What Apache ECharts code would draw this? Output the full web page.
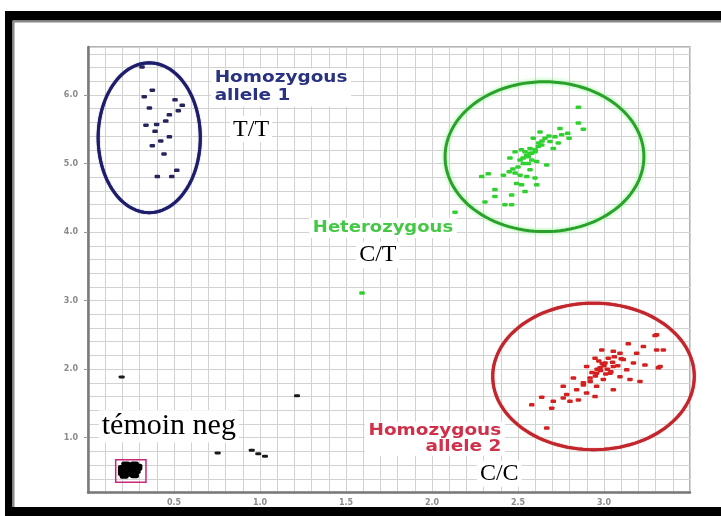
<!DOCTYPE html>
<html>
<head>
<meta charset="utf-8">
<script src="https://cdn.jsdelivr.net/npm/echarts@6/dist/echarts.min.js"></script>
<style>
html,body{margin:0;padding:0;background:#fff;}
#chart{width:721px;height:516px;}
</style>
</head>
<body>
<div id="chart"></div>
<script>
// ---- Data (x = allele 1 signal, y = allele 2 signal) ----
const xTickValues = [0.5, 1.0, 1.5, 2.0, 2.5, 3.0];
const yTickValues = [1, 2, 3, 4, 5, 6];

const homozygous1 = [
  [0.314, 6.41], [0.374, 6.07], [0.327, 5.975], [0.506, 5.93], [0.548, 5.85],
  [0.357, 5.81], [0.525, 5.77], [0.473, 5.71], [0.452, 5.62], [0.337, 5.56],
  [0.399, 5.57], [0.390, 5.47], [0.473, 5.39], [0.423, 5.33], [0.374, 5.26],
  [0.442, 5.14], [0.516, 4.90], [0.403, 4.81], [0.487, 4.81]
];

const heterozygous = [
  [2.851, 5.82], [2.851, 5.59], [2.880, 5.50], [2.789, 5.44], [2.797, 5.37],
  [2.744, 5.51], [2.715, 5.39], [2.686, 5.32], [2.628, 5.46], [2.638, 5.27],
  [2.589, 5.37], [2.570, 5.22], [2.541, 5.17], [2.560, 5.10], [2.512, 5.05],
  [2.531, 5.00], [2.483, 5.17], [2.453, 5.08], [2.667, 4.98], [2.609, 5.03],
  [2.449, 4.88], [2.483, 4.86], [2.512, 4.83], [2.415, 4.83], [2.551, 4.81],
  [2.599, 4.79], [2.609, 4.69], [2.521, 4.69], [2.492, 4.71], [2.327, 4.85],
  [2.289, 4.81], [2.366, 4.62], [2.366, 4.52], [2.463, 4.54], [2.541, 4.59],
  [2.424, 4.40], [2.463, 4.40], [2.308, 4.44], [2.570, 4.91], [2.705, 5.22],
  [2.734, 5.30], [2.657, 5.37], [2.754, 5.42], [2.580, 5.15], [2.599, 5.17],
  [2.618, 5.25], [2.55, 5.12], [2.57, 5.15], [2.53, 5.08], [2.60, 5.20],
  [2.62, 5.30], [2.50, 4.95], [2.47, 4.92], [2.58, 5.05], [2.64, 5.33],
  [2.68, 5.40], [2.52, 5.20], [2.56, 5.00], [2.134, 4.29], [1.593, 3.11]
];

const homozygous2 = [
  [3.297, 2.49], [3.141, 2.37], [3.229, 2.33], [3.306, 2.28], [3.345, 2.28],
  [2.987, 2.28], [3.054, 2.26], [3.093, 2.23], [3.190, 2.23], [2.948, 2.16],
  [3.025, 2.16], [3.112, 2.14], [3.171, 2.09], [3.238, 2.06], [3.316, 2.02],
  [2.899, 2.04], [2.977, 2.02], [3.054, 2.04], [3.132, 1.99], [3.006, 2.09],
  [2.957, 1.94], [3.035, 1.94], [3.093, 1.89], [2.919, 1.87], [2.996, 1.85],
  [3.151, 1.85], [3.209, 1.82], [2.880, 1.77], [2.957, 1.75], [3.054, 1.70],
  [2.822, 1.87], [2.841, 1.70], [2.899, 1.65], [2.783, 1.63], [2.851, 1.55],
  [2.763, 1.75], [2.802, 1.53], [2.948, 1.60], [2.763, 1.58], [2.705, 1.53],
  [2.638, 1.59], [2.580, 1.48], [2.696, 1.43], [2.667, 1.14], [3.326, 2.04],
  [3.306, 2.50], [3.00, 2.05], [3.02, 2.00], [2.98, 1.98], [3.05, 2.10],
  [2.95, 1.90], [2.97, 2.12], [3.08, 2.05], [2.93, 1.95], [3.01, 1.93],
  [2.99, 2.08], [3.04, 1.96], [2.96, 2.00], [3.10, 2.15], [2.92, 1.82],
  [2.88, 1.80], [3.06, 2.18]
];

const negControl = [
  [0.20, 0.55], [0.23, 0.58], [0.26, 0.56], [0.22, 0.50], [0.25, 0.48],
  [0.28, 0.52], [0.21, 0.45], [0.27, 0.60], [0.24, 0.53], [0.22, 0.60],
  [0.27, 0.46], [0.20, 0.49], [0.29, 0.57]
];

const undetermined = [
  [0.196, 1.885], [0.754, 0.777], [0.952, 0.815], [0.990, 0.767],
  [1.029, 0.728], [1.215, 1.61]
];

// cluster ellipses: [centerX, centerY, radiusX, radiusY] in data units
const clusterEllipses = [[0.356, 5.376, 0.297, 1.093], [2.654, 5.10, 0.578, 1.093], [2.939, 1.894, 0.586, 1.069]];
const ellipseColors = ['#1d1d6b', '#2aa12a', '#c2262c'];

// negative control box: [x1, y1, x2, y2]
const controlBox = [[0.161, 0.348, 0.337, 0.679]];

// annotation labels: text, anchor x, anchor y
const labelTexts = ['Homozygous\nallele 1', 'T/T', 'Heterozygous', 'C/T', 'Homozygous\nallele 2', 'C/C', 'témoin neg'];
const labelX = [0.715, 0.948, 1.715, 1.685, 2.424, 2.391, 0.470];
const labelY = [6.11, 5.50, 4.06, 3.67, 0.985, 0.475, 1.166];

// ---- styles (not data) ----
const labelStyles = [
  {font: 'bold 15px "DejaVu Sans"', fill: '#2a3282', align: 'left', scale: 1.23, lh: 18},
  {font: '24px "Liberation Serif"', fill: '#000', align: 'center', scale: 1, lh: 24},
  {font: 'bold 15px "DejaVu Sans"', fill: '#46c846', align: 'center', scale: 1.2, lh: 18},
  {font: '24px "Liberation Serif"', fill: '#000', align: 'center', scale: 1, lh: 24},
  {font: 'bold 15px "DejaVu Sans"', fill: '#d0304a', align: 'right', scale: 1.23, lh: 16},
  {font: '24px "Liberation Serif"', fill: '#000', align: 'center', scale: 1, lh: 24},
  {font: '30px "Liberation Serif"', fill: '#000', align: 'center', scale: 1, lh: 30}
];

const chart = echarts.init(document.getElementById('chart'), null, {renderer: 'canvas'});

const X_MIN = 0, X_MAX = 3.5, Y_MIN = 0.2, Y_MAX = 6.7;

function markerSeries(name, data, color, size) {
  return {
    name: name, type: 'scatter', xAxisIndex: 0, yAxisIndex: 0,
    data: data, symbol: 'roundRect', symbolSize: size,
    itemStyle: {color: color, opacity: 1}, z: 5, silent: true
  };
}

const option = {
  backgroundColor: '#ffffff',
  animation: false,
  grid: {left: 88, right: 31, top: 47, bottom: 23.5, show: true, borderColor: '#9a9a9a', borderWidth: 1.5, backgroundColor: 'transparent'},
  xAxis: [
    {
      type: 'value', min: X_MIN, max: X_MAX, position: 'bottom',
      axisLine: {show: true, onZero: false, lineStyle: {color: '#7a7a7a', width: 2.5}},
      axisTick: {show: false},
      axisLabel: {customValues: xTickValues, formatter: v => v.toFixed(1), fontSize: 8, color: '#8a8a8a', fontWeight: 'bold', margin: 6, fontFamily: 'DejaVu Sans'},
      splitLine: {show: false}
    },
    {
      type: 'value', min: X_MIN, max: X_MAX, interval: 0.1, position: 'top',
      axisLine: {show: false}, axisTick: {show: false}, axisLabel: {show: false},
      splitLine: {show: true, lineStyle: {color: '#d2d2d2', width: 1}}
    }
  ],
  yAxis: [
    {
      type: 'value', min: Y_MIN, max: Y_MAX, position: 'left',
      axisLine: {show: true, onZero: false, lineStyle: {color: '#7a7a7a', width: 2.5}},
      axisTick: {show: true, customValues: yTickValues, length: 4, lineStyle: {color: '#9a9a9a'}},
      axisLabel: {customValues: yTickValues, formatter: v => v.toFixed(1), fontSize: 8, color: '#8a8a8a', fontWeight: 'bold', margin: 10, fontFamily: 'DejaVu Sans'},
      splitLine: {show: false}
    },
    {
      type: 'value', min: Y_MIN, max: Y_MAX, interval: 0.2, position: 'right',
      axisLine: {show: false}, axisTick: {show: false}, axisLabel: {show: false},
      splitLine: {show: true, lineStyle: {color: '#d2d2d2', width: 1}}
    }
  ],
  series: [
    {
      type: 'custom', name: 'labels', xAxisIndex: 0, yAxisIndex: 0, z: 3, silent: true,
      data: labelTexts.map((t, i) => [labelX[i], labelY[i], i]),
      renderItem: function (params, api) {
        const i = api.value(2);
        const p = api.coord([api.value(0), api.value(1)]);
        const s = labelStyles[i];
        return {
          type: 'text', x: p[0], y: p[1], scaleX: s.scale,
          style: {
            text: labelTexts[i], font: s.font, fill: s.fill,
            align: s.align, verticalAlign: 'middle', lineHeight: s.lh,
            backgroundColor: '#ffffff', padding: [1, 3, 1, 3]
          }
        };
      }
    },
    {
      type: 'custom', name: 'clusters', xAxisIndex: 0, yAxisIndex: 0, z: 4, silent: true, clip: false,
      data: clusterEllipses,
      renderItem: function (params, api) {
        const cx = api.value(0), cy = api.value(1), rx = api.value(2), ry = api.value(3);
        const pts = [];
        for (let k = 0; k <= 120; k++) {
          const a = k / 120 * Math.PI * 2;
          pts.push(api.coord([cx + rx * Math.cos(a), cy + ry * Math.sin(a)]));
        }
        const c = ellipseColors[params.dataIndex];
        return {
          type: 'polygon', shape: {points: pts},
          style: {fill: 'none', stroke: c, lineWidth: 3,
            shadowBlur: params.dataIndex === 1 ? 4 : 1, shadowColor: params.dataIndex === 1 ? '#8cf58c' : c}
        };
      }
    },
    {
      type: 'custom', name: 'control box', xAxisIndex: 0, yAxisIndex: 0, z: 4, silent: true,
      data: controlBox,
      renderItem: function (params, api) {
        const a = api.coord([api.value(0), api.value(3)]);
        const b = api.coord([api.value(2), api.value(1)]);
        return {
          type: 'rect', shape: {x: a[0], y: a[1], width: b[0] - a[0], height: b[1] - a[1]},
          style: {fill: 'none', stroke: '#c8287a', lineWidth: 1.5}
        };
      }
    },
    markerSeries('Homozygous allele 1', homozygous1, '#25255e', [5.5, 3.5]),
    markerSeries('Heterozygous', heterozygous, '#2fd12f', [5.5, 3.5]),
    markerSeries('Homozygous allele 2', homozygous2, '#d61f1f', [5.5, 3.5]),
    markerSeries('Negative control', negControl, '#000000', [9, 7]),
    markerSeries('Undetermined', undetermined, '#1a1a1a', [6, 3])
  ],
  graphic: [
    {type: 'rect', left: 5, top: 11, shape: {width: 716, height: 9.5}, style: {fill: '#000'}, z: 100},
    {type: 'rect', left: 5, top: 11, shape: {width: 7.5, height: 505}, style: {fill: '#000'}, z: 100},
    {type: 'rect', left: 5, top: 507, shape: {width: 716, height: 9}, style: {fill: '#000'}, z: 100},
    {type: 'rect', left: 13, top: 21, shape: {width: 708, height: 1.5}, style: {fill: '#8a8a8a'}, z: 100},
    {type: 'rect', left: 13, top: 21, shape: {width: 1.5, height: 486}, style: {fill: '#8a8a8a'}, z: 100}
  ]
};

chart.setOption(option);
</script>
</body>
</html>
